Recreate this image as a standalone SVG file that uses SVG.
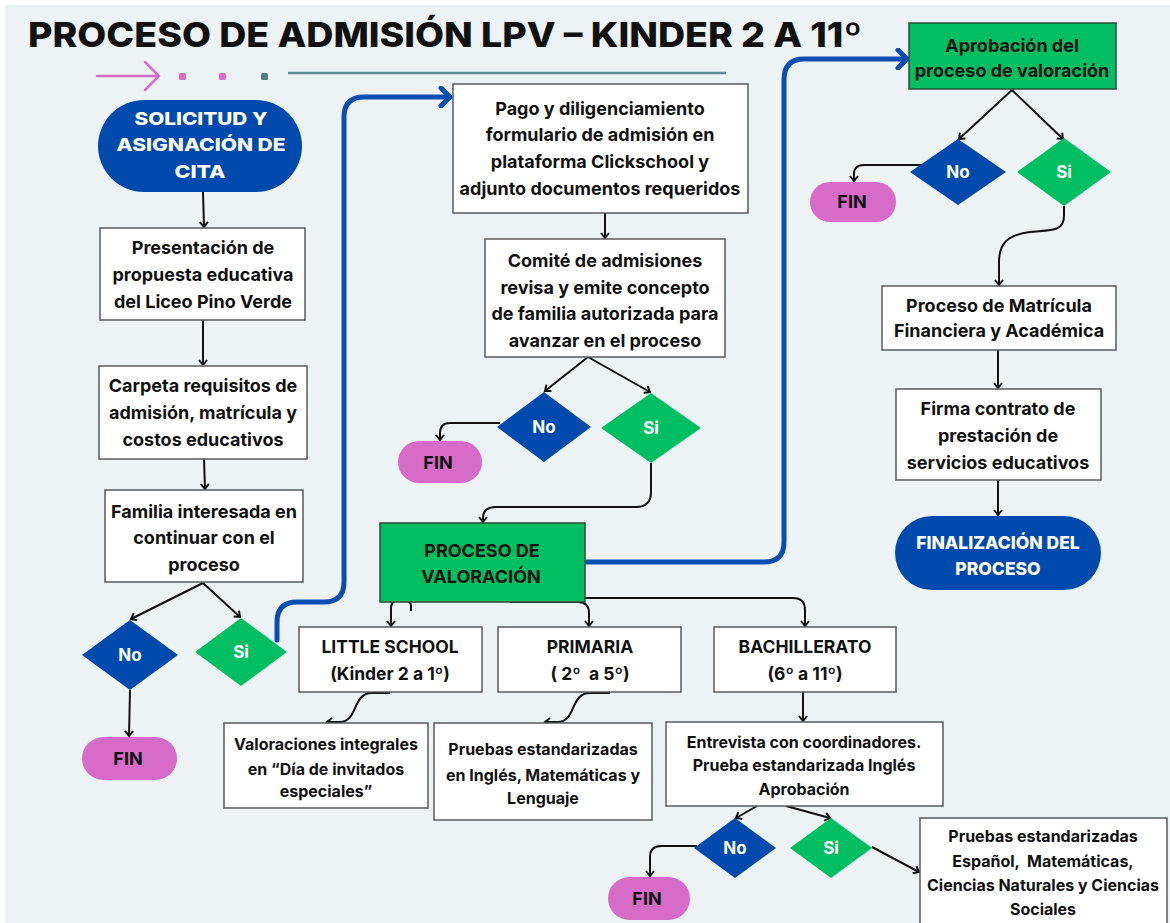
<svg xmlns="http://www.w3.org/2000/svg" width="1170" height="923" viewBox="0 0 1170 923">
<style>
.bg{fill:#edf2f5}
.box{fill:#ffffff;stroke:#5a5a5a;stroke-width:1.5}
.gbox{fill:#00bf63;stroke:#2e4a3a;stroke-width:1.5}
.blue{fill:#004aad}
.green{fill:#00bf63}
.pink{fill:#d66bc8}
.t{font-family:Inter,"Liberation Sans",sans-serif;font-weight:700;font-size:18px;fill:#111;text-anchor:middle}
.tm{font-family:Inter,"Liberation Sans",sans-serif;font-weight:700;font-size:17.5px;fill:#111;text-anchor:middle}
.ts{font-family:Inter,"Liberation Sans",sans-serif;font-weight:700;font-size:16px;fill:#111;text-anchor:middle}
.tw{font-family:Inter,"Liberation Sans",sans-serif;font-weight:700;font-size:17px;fill:#fff;text-anchor:middle}
.th{font-family:Inter,"Liberation Sans",sans-serif;font-weight:800;font-size:17.5px;fill:#fff;text-anchor:middle}
.c{fill:none;stroke:#111;stroke-width:2}
.cb{fill:none;stroke:#0b4db0;stroke-width:5;stroke-linecap:round}
</style>
<defs>
<marker id="ah" markerWidth="10" markerHeight="10" refX="8" refY="5" orient="auto" markerUnits="userSpaceOnUse"><path d="M3,1 L8,5 L3,9" fill="none" stroke="#111" stroke-width="2"/></marker>
<marker id="ahb" markerWidth="20" markerHeight="22" refX="14" refY="11" orient="auto" markerUnits="userSpaceOnUse"><path d="M5,2 L14,11 L5,20" fill="none" stroke="#0b4db0" stroke-width="5" stroke-linecap="round" stroke-linejoin="round"/></marker>
</defs>
<rect x="0" y="0" width="1170" height="923" fill="#ffffff"/>
<rect class="bg" x="5" y="5" width="1165" height="918"/>

<g id="title">
<text x="28" y="47" font-family="Inter,'Liberation Sans',sans-serif" font-weight="800" font-size="34" fill="#111" textLength="834" lengthAdjust="spacingAndGlyphs">PROCESO DE ADMISIÓN LPV – KINDER 2 A 11º</text>
</g>
<g id="decoration">
<path d="M97,76 L159,76 M145,62 L159,76 L145,90" fill="none" stroke="#d66bc8" stroke-width="2.5" stroke-linecap="round"/>
<rect x="179" y="73" width="7" height="7" rx="1.5" fill="#d66bc8"/>
<rect x="219" y="73" width="7" height="7" rx="1.5" fill="#d66bc8"/>
<rect x="261" y="73" width="7" height="7" rx="1.5" fill="#4f7c86"/>
<line x1="288" y1="73" x2="726" y2="73" stroke="#5f8c96" stroke-width="2.5"/>
</g>

<g id="connectors">
<path class="c" d="M203,192 L204,227" marker-end="url(#ah)"/>
<path class="c" d="M203,320 L203,365" marker-end="url(#ah)"/>
<path class="c" d="M204,459 L205,489" marker-end="url(#ah)"/>
<path class="c" d="M203,583 L131,619" marker-end="url(#ah)"/>
<path class="c" d="M203,583 L240,617" marker-end="url(#ah)"/>
<path class="c" d="M130,690 L129,736" marker-end="url(#ah)"/>
<path class="c" d="M605,213 L605,238" marker-end="url(#ah)"/>
<path class="c" d="M588,357 L545,391" marker-end="url(#ah)"/>
<path class="c" d="M588,357 L650,392" marker-end="url(#ah)"/>
<path class="c" d="M500,423 L450,423 Q440,423 440,433 L440,440" marker-end="url(#ah)"/>
<path class="c" d="M651,463 L651,492 Q651,507 636,507 L496,507 Q483,507 483,518 L483,522" marker-end="url(#ah)"/>
<path class="c" d="M411,611 L411,606 Q411,600 403,600 L398,600 Q391,600 391,609 L391,626" marker-end="url(#ah)"/>
<path class="c" d="M510,602 L578,602 Q589,602 589,613 L589,626" marker-end="url(#ah)"/>
<path class="c" d="M584,598 L793,598 Q805,598 805,610 L805,626" marker-end="url(#ah)"/>
<path class="c" d="M390,693 L372,693 C352,693 358,722 340,722 L327,722" marker-end="url(#ah)"/>
<path class="c" d="M610,693 L590,693 C570,693 576,722 558,722 L545,722" marker-end="url(#ah)"/>
<path class="c" d="M803,692 L803,721" marker-end="url(#ah)"/>
<path class="c" d="M757,806 L736,818" marker-end="url(#ah)"/>
<path class="c" d="M786,806 L830,818" marker-end="url(#ah)"/>
<path class="c" d="M697,846 L661,846 Q650,846 650,857 L650,876" marker-end="url(#ah)"/>
<path class="c" d="M872,847 L919,872" marker-end="url(#ah)"/>
<path class="c" d="M1012,90 L959,139" marker-end="url(#ah)"/>
<path class="c" d="M1012,90 L1063,139" marker-end="url(#ah)"/>
<path class="c" d="M924,165 L864,165 Q854,165 854,174 L854,181" marker-end="url(#ah)"/>
<path class="c" d="M1064,206 L1064,216 C1064,232 1050,230 1030,232 C1006,235 999,245 999,262 L999,285" marker-end="url(#ah)"/>
<path class="c" d="M998,350 L998,388" marker-end="url(#ah)"/>
<path class="c" d="M998,480 L998,515" marker-end="url(#ah)"/>
<path class="cb" d="M277,640 L277,622 Q277,602 297,602 L324,602 Q344,602 344,582 L344,117 Q344,97 364,97 L450,97" marker-end="url(#ahb)"/>
<path class="cb" d="M587,562 L764,562 Q784,562 784,542 L784,80 Q784,59 804,59 L907,59" marker-end="url(#ahb)"/>
</g>

<g id="n-solicitud">
<rect class="blue" x="98" y="100" width="204" height="92" rx="46"/>
<text class="th" x="201" y="125" textLength="133" lengthAdjust="spacingAndGlyphs">SOLICITUD Y</text>
<text class="th" x="201" y="151" textLength="169" lengthAdjust="spacingAndGlyphs">ASIGNACIÓN DE</text>
<text class="th" x="200" y="178" textLength="51" lengthAdjust="spacingAndGlyphs">CITA</text>
</g>
<g id="n-presentacion">
<rect class="box" x="100" y="228" width="205" height="92"/>
<text class="t" x="203" y="254">Presentación de</text>
<text class="t" x="203" y="281">propuesta educativa</text>
<text class="t" x="203" y="308">del Liceo Pino Verde</text>
</g>
<g id="n-carpeta">
<rect class="box" x="99" y="366" width="208" height="93"/>
<text class="t" x="203" y="392">Carpeta requisitos de</text>
<text class="t" x="203" y="419">admisión, matrícula y</text>
<text class="t" x="203" y="446">costos educativos</text>
</g>
<g id="n-familia">
<rect class="box" x="105" y="490" width="198" height="92"/>
<text class="t" x="204" y="518">Familia interesada en</text>
<text class="t" x="204" y="544">continuar con el</text>
<text class="t" x="204" y="571">proceso</text>
</g>
<g id="n-no1">
<polygon class="blue" points="82,655 130,620 178,655 130,690"/>
<text class="tw" x="130" y="661">No</text>
</g>
<g id="n-si1">
<polygon class="green" points="195,652 241,618 287,652 241,686"/>
<text class="tw" x="241" y="658">Si</text>
</g>
<g id="n-fin1">
<rect class="pink" x="82" y="737" width="95" height="43" rx="21.5"/>
<text class="t" x="128" y="765">FIN</text>
</g>

<g id="n-pago">
<rect class="box" x="453" y="84" width="295" height="129"/>
<text class="t" x="600" y="115">Pago y diligenciamiento</text>
<text class="t" x="600" y="141">formulario de admisión en</text>
<text class="t" x="600" y="168">plataforma Clickschool y</text>
<text class="t" x="600" y="195">adjunto documentos requeridos</text>
</g>
<g id="n-comite">
<rect class="box" x="485" y="239" width="240" height="118"/>
<text class="t" x="605" y="267">Comité de admisiones</text>
<text class="t" x="605" y="294">revisa y emite concepto</text>
<text class="t" x="605" y="320">de familia autorizada para</text>
<text class="t" x="605" y="347">avanzar en el proceso</text>
</g>
<g id="n-no2">
<polygon class="blue" points="497,427 544,392 591,427 544,462"/>
<text class="tw" x="544" y="433">No</text>
</g>
<g id="n-si2">
<polygon class="green" points="601,428 651,393 701,428 651,463"/>
<text class="tw" x="651" y="434">Si</text>
</g>
<g id="n-fin2">
<rect class="pink" x="398" y="441" width="84" height="42" rx="21"/>
<text class="t" x="438" y="469">FIN</text>
</g>

<g id="n-valoracion">
<rect class="gbox" x="380" y="523" width="205" height="79"/>
<text class="t" x="482" y="557">PROCESO DE</text>
<text class="t" x="481" y="583">VALORACIÓN</text>
</g>
<g id="n-little">
<rect class="box" x="299" y="627" width="183" height="65"/>
<text class="tm" x="390" y="653">LITTLE SCHOOL</text>
<text class="tm" x="390" y="680">(Kinder 2 a 1º)</text>
</g>
<g id="n-primaria">
<rect class="box" x="498" y="627" width="183" height="65"/>
<text class="tm" x="590" y="653">PRIMARIA</text>
<text class="tm" x="590" y="680" xml:space="preserve">( 2º  a 5º)</text>
</g>
<g id="n-bachillerato">
<rect class="box" x="714" y="627" width="182" height="65"/>
<text class="tm" x="805" y="653">BACHILLERATO</text>
<text class="tm" x="805" y="680">(6º a 11º)</text>
</g>
<g id="n-valoraciones">
<rect class="box" x="224" y="723" width="204" height="85"/>
<text class="ts" x="326" y="750">Valoraciones integrales</text>
<text class="ts" x="326" y="775">en “Día de invitados</text>
<text class="ts" x="326" y="797">especiales”</text>
</g>
<g id="n-pruebas1">
<rect class="box" x="434" y="723" width="218" height="97"/>
<text class="ts" x="543" y="755">Pruebas estandarizadas</text>
<text class="ts" x="543" y="781">en Inglés, Matemáticas y</text>
<text class="ts" x="543" y="804">Lenguaje</text>
</g>
<g id="n-entrevista">
<rect class="box" x="666" y="722" width="277" height="84"/>
<text class="ts" x="804" y="748">Entrevista con coordinadores.</text>
<text class="ts" x="804" y="771">Prueba estandarizada Inglés</text>
<text class="ts" x="804" y="795">Aprobación</text>
</g>
<g id="n-no3">
<polygon class="blue" points="694,848 735,818 776,848 735,878"/>
<text class="tw" x="735" y="854">No</text>
</g>
<g id="n-si3">
<polygon class="green" points="790,848 831,818 872,848 831,878"/>
<text class="tw" x="831" y="854">Si</text>
</g>
<g id="n-fin3">
<rect class="pink" x="608" y="877" width="82" height="43" rx="21.5"/>
<text class="t" x="647" y="905">FIN</text>
</g>
<g id="n-pruebas2">
<rect class="box" x="920" y="818" width="247" height="112"/>
<text class="ts" x="1043" y="842" font-size="15.3">Pruebas estandarizadas</text>
<text class="ts" x="1043" y="867" font-size="15.3" xml:space="preserve">Español,  Matemáticas,</text>
<text class="ts" x="1043" y="891" font-size="15.3">Ciencias Naturales y Ciencias</text>
<text class="ts" x="1043" y="915" font-size="15.3">Sociales</text>
</g>

<g id="n-aprobacion">
<rect class="gbox" x="909" y="23" width="207" height="66"/>
<text class="t" x="1012" y="52">Aprobación del</text>
<text class="t" x="1012" y="77">proceso de valoración</text>
</g>
<g id="n-no4">
<polygon class="blue" points="910,172 958,139 1006,172 958,205"/>
<text class="tw" x="958" y="178">No</text>
</g>
<g id="n-si4">
<polygon class="green" points="1017,172 1064,138 1111,172 1064,206"/>
<text class="tw" x="1064" y="178">Si</text>
</g>
<g id="n-fin4">
<rect class="pink" x="810" y="182" width="86" height="40" rx="20"/>
<text class="t" x="852" y="208">FIN</text>
</g>
<g id="n-matricula">
<rect class="box" x="882" y="286" width="234" height="64"/>
<text class="t" x="999" y="312">Proceso de Matrícula</text>
<text class="t" x="999" y="337">Financiera y Académica</text>
</g>
<g id="n-firma">
<rect class="box" x="896" y="389" width="205" height="91"/>
<text class="t" x="998" y="415">Firma contrato de</text>
<text class="t" x="998" y="442">prestación de</text>
<text class="t" x="998" y="469">servicios educativos</text>
</g>
<g id="n-finalizacion">
<rect class="blue" x="895" y="516" width="206" height="74" rx="37"/>
<text class="th" x="998" y="549">FINALIZACIÓN DEL</text>
<text class="th" x="998" y="575">PROCESO</text>
</g>
</svg>
